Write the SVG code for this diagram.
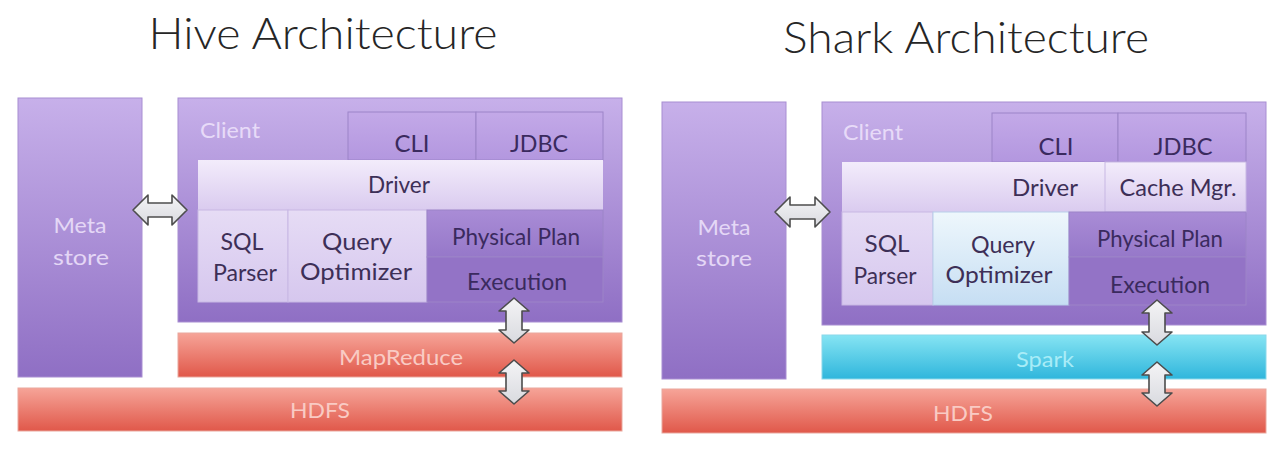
<svg xmlns="http://www.w3.org/2000/svg" width="1280" height="451" viewBox="0 0 1280 451">
<style>
text{font-family:Lato,"Open Sans","DejaVu Sans",sans-serif;text-anchor:middle}
.title{font-size:44px;fill:#262626;font-weight:300}
.lbl{font-size:23px;fill:#3d2f57}
.lbld{font-size:23px;fill:#3a2a5e}
.lt{font-size:22px;fill:#efe4fc;opacity:.85}
.red{font-size:21px;fill:#f9cbc4}
.cyan{font-size:21px;fill:#a8ecf7}
.pur{stroke:#a88ed2;stroke-width:1}
.sub{stroke:#9c84c8;stroke-width:1}
.arrow{fill:url(#gArr);stroke:#4d4d4d;stroke-width:1.6;stroke-linejoin:round}
</style>
<defs>
<linearGradient id="gPur" x1="0" y1="0" x2="0" y2="1"><stop offset="0" stop-color="#c7b0ea"/><stop offset="1" stop-color="#8f6fc4"/></linearGradient>
<linearGradient id="gCli" x1="0" y1="0" x2="0" y2="1"><stop offset="0" stop-color="#c3a9e8"/><stop offset="1" stop-color="#b397df"/></linearGradient>
<linearGradient id="gDrv" x1="0" y1="0" x2="0" y2="1"><stop offset="0" stop-color="#f3ecfb"/><stop offset="1" stop-color="#dacbef"/></linearGradient>
<linearGradient id="gSql" x1="0" y1="0" x2="0" y2="1"><stop offset="0" stop-color="#e6dcf5"/><stop offset="1" stop-color="#d6c7ee"/></linearGradient>
<linearGradient id="gBlue" x1="0" y1="0" x2="0" y2="1"><stop offset="0" stop-color="#eef7fc"/><stop offset="1" stop-color="#c6def3"/></linearGradient>
<linearGradient id="gPhy" x1="0" y1="0" x2="0" y2="1"><stop offset="0" stop-color="#a98cd6"/><stop offset="1" stop-color="#9678c9"/></linearGradient>
<linearGradient id="gRed" x1="0" y1="0" x2="0" y2="1"><stop offset="0" stop-color="#f6a498"/><stop offset="1" stop-color="#e0584a"/></linearGradient>
<linearGradient id="gCyan" x1="0" y1="0" x2="0" y2="1"><stop offset="0" stop-color="#86e4f3"/><stop offset="1" stop-color="#2fb6dc"/></linearGradient>
<linearGradient id="gArr" x1="0" y1="0" x2="0" y2="1"><stop offset="0" stop-color="#f4f4f6"/><stop offset="1" stop-color="#d9dadf"/></linearGradient>
</defs>
<rect width="1280" height="451" fill="#ffffff"/>

<text class="title" x="323" y="49" textLength="349" lengthAdjust="spacingAndGlyphs">Hive Architecture</text>
<text class="title" x="966" y="53" textLength="366" lengthAdjust="spacingAndGlyphs">Shark Architecture</text>

<!-- Hive -->
<g id="hive-metastore">
<rect x="18" y="98" width="124" height="279" fill="url(#gPur)" class="pur"/>
<text class="lt" x="80" y="233" textLength="53" lengthAdjust="spacingAndGlyphs">Meta</text>
<text class="lt" x="81" y="265" textLength="56" lengthAdjust="spacingAndGlyphs">store</text>
</g>
<g id="hive-client">
<rect x="178" y="98" width="444" height="224" fill="url(#gPur)" class="pur"/>
<text class="lt" x="230" y="138" textLength="60" lengthAdjust="spacingAndGlyphs">Client</text>
</g>
<g id="hive-cli">
<rect x="348" y="112" width="128" height="48" fill="url(#gCli)" class="sub"/>
<text class="lbld" x="412" y="152" textLength="35" lengthAdjust="spacingAndGlyphs">CLI</text>
</g>
<g id="hive-jdbc">
<rect x="476" y="112" width="127" height="48" fill="url(#gCli)" class="sub"/>
<text class="lbld" x="539" y="152" textLength="58" lengthAdjust="spacingAndGlyphs">JDBC</text>
</g>
<g id="hive-driver">
<rect x="198" y="160" width="405" height="50" fill="url(#gDrv)"/>
<text class="lbl" x="399" y="193" textLength="62" lengthAdjust="spacingAndGlyphs">Driver</text>
</g>
<g id="hive-sqlparser">
<rect x="198" y="210" width="90" height="92" fill="url(#gSql)" stroke="#c8b8e4" stroke-width="1"/>
<text class="lbl" x="242" y="250" textLength="43" lengthAdjust="spacingAndGlyphs">SQL</text>
<text class="lbl" x="245" y="281" textLength="64" lengthAdjust="spacingAndGlyphs">Parser</text>
</g>
<g id="hive-optimizer">
<rect x="288" y="210" width="139" height="92" fill="url(#gSql)" stroke="#c8b8e4" stroke-width="1"/>
<text class="lbl" x="357" y="250" textLength="70" lengthAdjust="spacingAndGlyphs">Query</text>
<text class="lbl" x="356" y="280" textLength="112" lengthAdjust="spacingAndGlyphs">Optimizer</text>
</g>
<g id="hive-physical">
<rect x="427" y="210" width="176" height="47" fill="url(#gPhy)" class="sub"/>
<text class="lbld" x="516" y="245" textLength="128" lengthAdjust="spacingAndGlyphs">Physical Plan</text>
</g>
<g id="hive-execution">
<rect x="427" y="257" width="176" height="45" fill="#9373c6" class="sub"/>
<text class="lbld" x="517" y="290" textLength="100" lengthAdjust="spacingAndGlyphs">Execution</text>
</g>
<g id="hive-mapreduce">
<rect x="178" y="333" width="444" height="44" fill="url(#gRed)" stroke="#e9a79d" stroke-width="1"/>
<text class="red" x="401" y="365" textLength="124" lengthAdjust="spacingAndGlyphs">MapReduce</text>
</g>
<g id="hive-hdfs">
<rect x="18" y="388" width="604" height="43" fill="url(#gRed)" stroke="#e9a79d" stroke-width="1"/>
<text class="red" x="320" y="418" textLength="60" lengthAdjust="spacingAndGlyphs">HDFS</text>
</g>

<!-- Shark -->
<g id="shark-metastore">
<rect x="662" y="102" width="124" height="277" fill="url(#gPur)" class="pur"/>
<text class="lt" x="724" y="235" textLength="53" lengthAdjust="spacingAndGlyphs">Meta</text>
<text class="lt" x="724" y="266" textLength="56" lengthAdjust="spacingAndGlyphs">store</text>
</g>
<g id="shark-client">
<rect x="822" y="102" width="444" height="223" fill="url(#gPur)" class="pur"/>
<text class="lt" x="873" y="140" textLength="60" lengthAdjust="spacingAndGlyphs">Client</text>
</g>
<g id="shark-cli">
<rect x="992" y="113" width="126" height="49" fill="url(#gCli)" class="sub"/>
<text class="lbld" x="1056" y="155" textLength="35" lengthAdjust="spacingAndGlyphs">CLI</text>
</g>
<g id="shark-jdbc">
<rect x="1118" y="113" width="128" height="49" fill="url(#gCli)" class="sub"/>
<text class="lbld" x="1183" y="155" textLength="59" lengthAdjust="spacingAndGlyphs">JDBC</text>
</g>
<g id="shark-driver">
<rect x="842" y="162" width="263" height="50" fill="url(#gDrv)"/>
<text class="lbl" x="1045" y="196" textLength="66" lengthAdjust="spacingAndGlyphs">Driver</text>
</g>
<g id="shark-cachemgr">
<rect x="1105" y="162" width="141" height="50" fill="url(#gDrv)" stroke="#c8b8e4" stroke-width="1"/>
<text class="lbl" x="1178" y="196" textLength="117" lengthAdjust="spacingAndGlyphs">Cache Mgr.</text>
</g>
<g id="shark-sqlparser">
<rect x="842" y="212" width="91" height="93" fill="url(#gSql)" stroke="#c8b8e4" stroke-width="1"/>
<text class="lbl" x="887" y="252" textLength="45" lengthAdjust="spacingAndGlyphs">SQL</text>
<text class="lbl" x="885" y="284" textLength="63" lengthAdjust="spacingAndGlyphs">Parser</text>
</g>
<g id="shark-optimizer">
<rect x="933" y="212" width="136" height="93" fill="url(#gBlue)" stroke="#b8d0ea" stroke-width="1"/>
<text class="lbl" x="1003" y="253" textLength="64" lengthAdjust="spacingAndGlyphs">Query</text>
<text class="lbl" x="999" y="283" textLength="107" lengthAdjust="spacingAndGlyphs">Optimizer</text>
</g>
<g id="shark-physical">
<rect x="1069" y="212" width="177" height="45" fill="url(#gPhy)" class="sub"/>
<text class="lbld" x="1160" y="247" textLength="126" lengthAdjust="spacingAndGlyphs">Physical Plan</text>
</g>
<g id="shark-execution">
<rect x="1069" y="257" width="177" height="48" fill="#9373c6" class="sub"/>
<text class="lbld" x="1160" y="293" textLength="100" lengthAdjust="spacingAndGlyphs">Execution</text>
</g>
<g id="shark-spark">
<rect x="822" y="335" width="444" height="44" fill="url(#gCyan)" stroke="#8ad8ea" stroke-width="1"/>
<text class="cyan" x="1045" y="367" textLength="58" lengthAdjust="spacingAndGlyphs">Spark</text>
</g>
<g id="shark-hdfs">
<rect x="662" y="389" width="604" height="44" fill="url(#gRed)" stroke="#e9a79d" stroke-width="1"/>
<text class="red" x="963" y="421" textLength="60" lengthAdjust="spacingAndGlyphs">HDFS</text>
</g>

<g id="connectors">
<path class="arrow" d="M133,210 L148,195 L148,203 L172,203 L172,195 L187,210 L172,225 L172,217 L148,217 L148,225 Z"/>
<path class="arrow" d="M514,298 L529,311 L522,311 L522,330 L529,330 L514,343 L499,330 L506,330 L506,311 L499,311 Z"/>
<path class="arrow" d="M514,360 L529,373 L522,373 L522,391 L529,391 L514,404 L499,391 L506,391 L506,373 L499,373 Z"/>
<path class="arrow" d="M775,212 L790,197 L790,205 L815,205 L815,197 L830,212 L815,227 L815,219 L790,219 L790,227 Z"/>
<path class="arrow" d="M1157,300 L1172,313 L1165,313 L1165,332 L1172,332 L1157,345 L1142,332 L1149,332 L1149,313 L1142,313 Z"/>
<path class="arrow" d="M1157,362 L1172,375 L1165,375 L1165,393 L1172,393 L1157,406 L1142,393 L1149,393 L1149,375 L1142,375 Z"/>
</g>
</svg>
